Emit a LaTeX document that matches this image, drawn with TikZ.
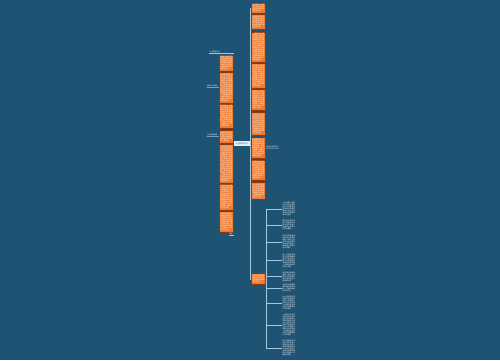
\documentclass[tikz,border=0pt]{standalone}
\usepackage{fontspec}
\newfontfamily\cjk{Noto Sans CJK SC}
\XeTeXlinebreaklocale "zh"
\XeTeXlinebreakskip=0pt plus 0.5pt
\definecolor{bgc}{HTML}{1F5374}
\definecolor{orangec}{HTML}{EE7B31}
\definecolor{oborder}{HTML}{8A3A12}
\definecolor{linec}{HTML}{A3C8E2}
\definecolor{cfill}{HTML}{E6F0F8}
\ExplSyntaxOn
\tl_const:Nn \c_myfill_tl {人生就像一场旅行不必在乎目的地在乎的是沿途的风景以及看风景的心情让心灵去旅行我们要学会珍惜身边的人和事用心感受生活中的每一份美好坚持自己的梦想勇敢前行不断地努力提升自我成就更加美好的未来每一天都是崭新的开始人生就像一场旅行不必在乎目的地在乎的是沿途的风景以及看风景的心情让心灵去旅行我们要学会珍惜身边的人和事用心感受生活中的每一份美好坚持自己的梦想勇敢前行不断地努力提升自我成就更加美好的未来每一天都是崭新的开始}
\cs_new:Npn \fillertext #1#2 {\tl_range:Nnn \c_myfill_tl {#1}{\int_eval:n{#1+#2-1}}}
\ExplSyntaxOff
\tikzset{
  tinyfont/.style={font=\cjk\fontsize{1.7}{2.0}\selectfont},
  obox/.style={draw=oborder, line width=0.6bp, fill=orangec, text=white, tinyfont,
    text width=12bp, inner sep=1bp, align=left, anchor=north west, minimum width=14bp},
  wbox/.style={text=white, tinyfont, text width=13bp, inner sep=0.5bp, align=left,
    anchor=north west},
  lbl/.style={text=white, font=\cjk\fontsize{1.7}{2.2}\selectfont, inner sep=0.4bp},
  cnode/.style={fill=cfill, text=bgc, font=\cjk\fontsize{1.9}{2.3}\selectfont,
    minimum width=16bp, minimum height=5bp, inner sep=0.3bp},
  conn/.style={draw=linec, line width=0.5bp},
  lconn/.style={draw=oborder, line width=0.5bp}
}
\begin{document}
\begin{tikzpicture}[x=1bp,y=-1bp]
\fill[bgc] (0,0) rectangle (500,360);
\useasboundingbox (0,0) rectangle (500,360);

% center
\node[cnode] (c) at (242,143.5) {人生感悟的句子};

% right column
\node[obox, minimum height=10bp] (r1) at (251,3) {\fillertext{1}{26}};
\node[obox, minimum height=15bp] (r2) at (251,14) {\fillertext{20}{40}};
\node[obox, minimum height=30bp] (r3) at (251,32) {\fillertext{5}{96}};
\node[obox, minimum height=25bp] (r4) at (251,63) {\fillertext{30}{75}};
\node[obox, minimum height=21bp] (r5) at (251,89) {\fillertext{50}{61}};
\node[obox, minimum height=23bp] (r6) at (251,112) {\fillertext{12}{68}};
\node[obox, minimum height=21bp] (r7) at (251,137) {\fillertext{70}{61}};
\node[obox, minimum height=20bp] (r8) at (251,160) {\fillertext{40}{61}};
\node[obox, minimum height=17bp] (r9) at (251,182) {\fillertext{60}{47}};
\node[obox, minimum height=11bp] (rb) at (251,273) {\fillertext{8}{26}};

% left column
\node[obox, minimum height=16bp] (l1) at (219,55) {\fillertext{3}{47}};
\node[obox, minimum height=31bp] (l2) at (219,72) {\fillertext{25}{96}};
\node[obox, minimum height=24bp] (l3) at (219,104) {\fillertext{45}{75}};
\node[obox, minimum height=13bp] (l4) at (219,130) {\fillertext{66}{33}};
\node[obox, minimum height=39bp] (l5) at (219,144) {\fillertext{10}{124}};
\node[obox, minimum height=26bp] (l6) at (219,184) {\fillertext{35}{82}};
\node[obox, minimum height=21bp] (l7) at (219,211) {\fillertext{55}{61}};

% right grandchildren
\node[wbox, minimum height=16bp] (g1) at (282,201) {\fillertext{1}{47}};
\node[wbox, minimum height=12bp] (g2) at (282,219) {\fillertext{41}{33}};
\node[wbox, minimum height=16bp] (g3) at (282,234) {\fillertext{15}{47}};
\node[wbox, minimum height=15bp] (g4) at (282,253) {\fillertext{60}{47}};
\node[wbox, minimum height=11bp] (g5) at (282,271) {\fillertext{22}{33}};
\node[wbox, minimum height=10bp] (g6) at (282,283) {\fillertext{80}{26}};
\node[wbox, minimum height=16bp] (g7) at (282,295) {\fillertext{33}{47}};
\node[wbox, minimum height=24bp] (g8) at (282,313) {\fillertext{5}{75}};
\node[wbox, minimum height=18bp] (g9) at (282,339) {\fillertext{48}{54}};

% labels
\node[lbl, anchor=south west] (lt) at (209,53) {人生感悟句子};
\node[lbl, anchor=south east] (la) at (218,87.5) {经典人生感悟};
\node[lbl, anchor=south east] (lc) at (218,136.5) {人生感悟语录};
\node[lbl, anchor=north east] (lb) at (233.5,232.5) {更多};
\node[lbl, anchor=south west] (rl) at (266,148) {感悟人生的句子};

% connectors: center to right column
\foreach \n in {r1,r2,r3,r4,r5,r6,r7,r8,r9,rb}
  \draw[conn] (c.east) |- (\n.west);
% center to left column (hidden behind borders)
\foreach \n in {l1,l2,l3,l4,l5,l6,l7}
  \draw[lconn] (c.west) -- ++(-0.5,0) |- (\n.east);
% bottom right box to grandchildren
\foreach \n in {g1,g2,g3,g4,g5,g6,g7,g8,g9}
  \draw[conn] (rb.east) -- ++(0.3,0) |- (\n.west);
% labels
\draw[conn] (lt.south west) -- (lt.south west -| l1.east);
\draw[conn] (l2.west) -- (la.south east) -- (la.south west);
\draw[conn] (l4.west) -- (lc.south east) -- (lc.south west);
\draw[conn] (lb.south west) -- (lb.south east);
\draw[conn] (r7.east) -- (rl.south west) -- (rl.south east);
\end{tikzpicture}
\end{document}
